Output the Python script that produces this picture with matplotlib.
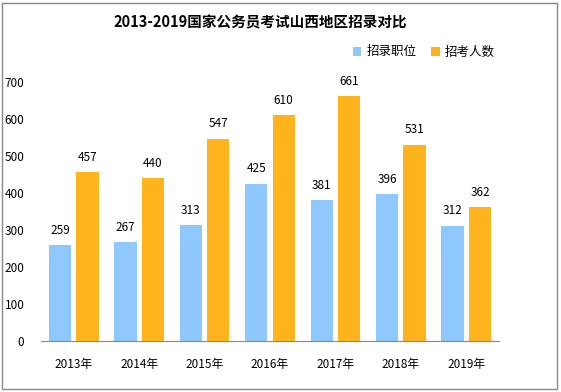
import matplotlib.pyplot as plt
import numpy as np
from matplotlib.patches import Rectangle

plt.rcParams['font.family'] = ['Noto Sans CJK SC', 'DejaVu Sans']

anos = ["2013年", "2014年", "2015年", "2016年", "2017年", "2018年", "2019年"]
vagas = [259, 267, 313, 425, 381, 396, 312]       # 招录职位
candidatos = [457, 440, 547, 610, 661, 531, 362]  # 招考人数

cor_azul = "#8EC8FF"
cor_laranja = "#FFB31C"

fig = plt.figure(figsize=(5.61, 3.92), dpi=100)
ax = fig.add_axes([41 / 561, 51 / 392, 458 / 561, 259 / 392])

x = np.arange(len(anos))
w = 0.34
b1 = ax.bar(x - 0.21, vagas, w, color=cor_azul, label="招录职位")
b2 = ax.bar(x + 0.21, candidatos, w, color=cor_laranja, label="招考人数")

for barras in (b1, b2):
    for b in barras:
        ax.annotate(f"{int(b.get_height())}", (b.get_x() + b.get_width() / 2, b.get_height()),
                    textcoords="offset points", xytext=(0, 6), ha='center', va='bottom', fontsize=8.5)

ax.set_xlim(-0.5, len(anos) - 0.5)
ax.set_ylim(0, 700)
ax.set_yticks(range(0, 701, 100))
ax.set_xticks(x)
ax.set_xticklabels(anos, fontsize=8.5)
ax.tick_params(axis='y', labelsize=8.5, length=0, pad=12)
ax.tick_params(axis='x', length=0, pad=12)
for s in ("top", "right", "left"):
    ax.spines[s].set_visible(False)
ax.spines["bottom"].set_color("#888888")

fig.text(260 / 561, 1 - 22 / 392, "2013-2019国家公务员考试山西地区招录对比",
         ha='center', va='center', fontsize=10.5, fontweight='bold')

fig.legend(handles=[b1, b2], loc='center right', bbox_to_anchor=(500 / 561, 1 - 52 / 392),
           ncol=2, frameon=False, fontsize=9, handlelength=0.7, handleheight=0.7,
           handletextpad=0.4, columnspacing=1.2, borderaxespad=0)

fig.patches.append(Rectangle((2 / 561, 3 / 392), 555 / 561, 386 / 392, transform=fig.transFigure,
                             fill=False, edgecolor="#888888", linewidth=1))

fig.savefig("out.png", dpi=100)
